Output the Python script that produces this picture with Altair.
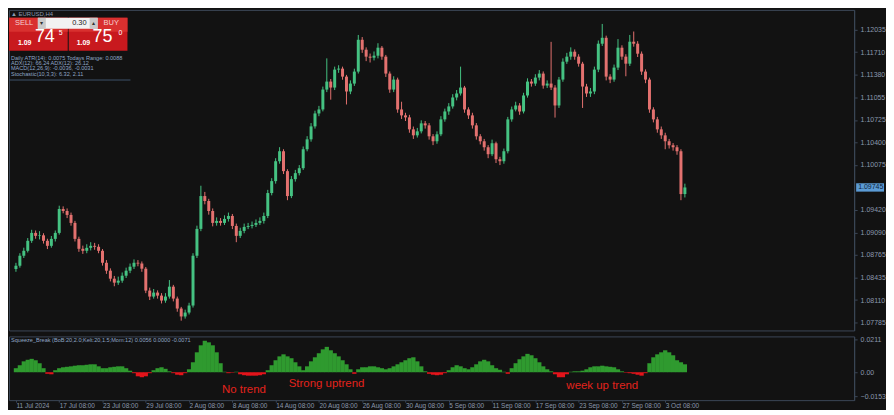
import altair as alt
import pandas as pd

# ---------------- data ----------------
opens = [1.08560, 1.08608, 1.08753, 1.08825, 1.08970, 1.09085, 1.09042, 1.09050, 1.08970, 1.08897,
         1.08998, 1.09085, 1.09432, 1.09403, 1.09346, 1.09230, 1.08998, 1.08854, 1.08825, 1.08868,
         1.08897, 1.08883, 1.08825, 1.08651, 1.08536, 1.08420, 1.08362, 1.08391, 1.08463, 1.08536,
         1.08594, 1.08651, 1.08640, 1.08565, 1.08247, 1.08160, 1.08218, 1.08174, 1.08102, 1.08160,
         1.08304, 1.08131, 1.07986, 1.07871, 1.07928, 1.08030, 1.08753, 1.09143, 1.09620, 1.09548,
         1.09403, 1.09230, 1.09259, 1.09230, 1.09288, 1.09331, 1.09186, 1.09042, 1.09114, 1.09172,
         1.09186, 1.09201, 1.09230, 1.09259, 1.09331, 1.09664, 1.09837, 1.10126, 1.10271, 1.09982,
         1.09620, 1.09866, 1.09953, 1.10025, 1.10300, 1.10444, 1.10632, 1.10820, 1.10878, 1.11167,
         1.11283, 1.11196, 1.11457, 1.11471, 1.11355, 1.11139, 1.11254, 1.11428, 1.11890, 1.11746,
         1.11645, 1.11630, 1.11659, 1.11775, 1.11645, 1.11399, 1.11167, 1.11312, 1.10878, 1.10792,
         1.10763, 1.10589, 1.10502, 1.10560, 1.10676, 1.10647, 1.10488, 1.10416, 1.10517, 1.10734,
         1.10849, 1.10922, 1.11052, 1.11110, 1.11196, 1.10878, 1.10792, 1.10647, 1.10488, 1.10416,
         1.10329, 1.10228, 1.10387, 1.10155, 1.10126, 1.10271, 1.10734, 1.10878, 1.10936, 1.10849,
         1.11081, 1.11283, 1.11254, 1.11341, 1.11399, 1.11225, 1.11254, 1.11196, 1.10936, 1.11312,
         1.11572, 1.11645, 1.11717, 1.11645, 1.11543, 1.11211, 1.11110, 1.11139, 1.11457, 1.11833,
         1.11919, 1.11355, 1.11312, 1.11486, 1.11775, 1.11645, 1.11543, 1.11862, 1.11833, 1.11688,
         1.11428, 1.11312, 1.10878, 1.10734, 1.10589, 1.10502, 1.10416, 1.10358, 1.10329, 1.10271,
         1.09649]
closes = [1.08608, 1.08753, 1.08825, 1.08970, 1.09085, 1.09042, 1.09050, 1.08970, 1.08897, 1.08998,
          1.09085, 1.09432, 1.09403, 1.09346, 1.09230, 1.08998, 1.08854, 1.08825, 1.08868, 1.08897,
          1.08883, 1.08825, 1.08651, 1.08536, 1.08420, 1.08362, 1.08391, 1.08463, 1.08536, 1.08594,
          1.08651, 1.08640, 1.08565, 1.08247, 1.08160, 1.08218, 1.08174, 1.08102, 1.08160, 1.08304,
          1.08131, 1.07986, 1.07871, 1.07928, 1.08030, 1.08753, 1.09143, 1.09620, 1.09548, 1.09403,
          1.09230, 1.09259, 1.09230, 1.09288, 1.09331, 1.09186, 1.09042, 1.09114, 1.09172, 1.09186,
          1.09201, 1.09230, 1.09259, 1.09331, 1.09664, 1.09837, 1.10126, 1.10271, 1.09982, 1.09620,
          1.09866, 1.09953, 1.10025, 1.10300, 1.10444, 1.10632, 1.10820, 1.10878, 1.11167, 1.11283,
          1.11196, 1.11457, 1.11471, 1.11355, 1.11139, 1.11254, 1.11428, 1.11890, 1.11746, 1.11645,
          1.11630, 1.11659, 1.11775, 1.11645, 1.11399, 1.11167, 1.11312, 1.10878, 1.10792, 1.10763,
          1.10589, 1.10502, 1.10560, 1.10676, 1.10647, 1.10488, 1.10416, 1.10517, 1.10734, 1.10849,
          1.10922, 1.11052, 1.11110, 1.11196, 1.10878, 1.10792, 1.10647, 1.10488, 1.10416, 1.10329,
          1.10228, 1.10387, 1.10155, 1.10126, 1.10271, 1.10734, 1.10878, 1.10936, 1.10849, 1.11081,
          1.11283, 1.11254, 1.11341, 1.11399, 1.11225, 1.11254, 1.11196, 1.10936, 1.11312, 1.11572,
          1.11645, 1.11717, 1.11645, 1.11543, 1.11211, 1.11110, 1.11139, 1.11457, 1.11833, 1.11919,
          1.11355, 1.11312, 1.11486, 1.11775, 1.11645, 1.11543, 1.11862, 1.11833, 1.11688, 1.11428,
          1.11312, 1.10878, 1.10734, 1.10589, 1.10502, 1.10416, 1.10358, 1.10329, 1.10271, 1.09649,
          1.09745]
highs = [1.08650, 1.08790, 1.08870, 1.09010, 1.09130, 1.09120, 1.09110, 1.09080, 1.09000, 1.09040,
         1.09120, 1.09480, 1.09470, 1.09440, 1.09380, 1.09260, 1.09030, 1.08900, 1.08920, 1.08950,
         1.08940, 1.08920, 1.08850, 1.08690, 1.08570, 1.08460, 1.08450, 1.08510, 1.08580, 1.08640,
         1.08700, 1.08690, 1.08670, 1.08590, 1.08290, 1.08270, 1.08250, 1.08210, 1.08210, 1.08400,
         1.08330, 1.08160, 1.08010, 1.07970, 1.08070, 1.08790, 1.09190, 1.09770, 1.09680, 1.09580,
         1.09440, 1.09310, 1.09300, 1.09340, 1.09380, 1.09360, 1.09220, 1.09160, 1.09220, 1.09230,
         1.09250, 1.09280, 1.09310, 1.09380, 1.09710, 1.09880, 1.10170, 1.10330, 1.10300, 1.10010,
         1.09910, 1.10000, 1.10070, 1.10340, 1.10490, 1.10680, 1.10860, 1.10930, 1.11210, 1.11620,
         1.11320, 1.11500, 1.11520, 1.11500, 1.11380, 1.11300, 1.11470, 1.11960, 1.11930, 1.11780,
         1.11690, 1.11720, 1.11840, 1.11800, 1.11670, 1.11430, 1.11360, 1.11340, 1.10990, 1.10830,
         1.10800, 1.10630, 1.10610, 1.10720, 1.10710, 1.10680, 1.10520, 1.10560, 1.10780, 1.10890,
         1.10970, 1.11100, 1.11160, 1.11500, 1.11220, 1.10910, 1.10830, 1.10680, 1.10520, 1.10450,
         1.10360, 1.10440, 1.10410, 1.10190, 1.10310, 1.10770, 1.10920, 1.10990, 1.10970, 1.11120,
         1.11330, 1.11320, 1.11390, 1.11450, 1.11430, 1.11300, 1.11860, 1.11230, 1.11350, 1.11620,
         1.11700, 1.11780, 1.11750, 1.11680, 1.11570, 1.11250, 1.11190, 1.11500, 1.11880, 1.12120,
         1.11950, 1.11390, 1.11530, 1.11900, 1.11810, 1.11680, 1.11960, 1.12010, 1.11870, 1.11720,
         1.11460, 1.11340, 1.10910, 1.10770, 1.10630, 1.10540, 1.10450, 1.10390, 1.10360, 1.10300,
         1.09800]
lows = [1.08520, 1.08580, 1.08720, 1.08800, 1.08940, 1.09000, 1.08990, 1.08930, 1.08850, 1.08870,
        1.08960, 1.09060, 1.09370, 1.09300, 1.09190, 1.08960, 1.08810, 1.08780, 1.08790, 1.08830,
        1.08840, 1.08790, 1.08610, 1.08490, 1.08380, 1.08310, 1.08330, 1.08360, 1.08430, 1.08500,
        1.08560, 1.08600, 1.08520, 1.08210, 1.08110, 1.08130, 1.08130, 1.08060, 1.08070, 1.08130,
        1.08090, 1.07940, 1.07810, 1.07840, 1.07900, 1.08000, 1.08720, 1.09110, 1.09500, 1.09350,
        1.09180, 1.09190, 1.09190, 1.09200, 1.09250, 1.09140, 1.08950, 1.09010, 1.09080, 1.09140,
        1.09150, 1.09170, 1.09200, 1.09220, 1.09300, 1.09630, 1.09800, 1.10090, 1.09940, 1.09560,
        1.09590, 1.09830, 1.09920, 1.10000, 1.10270, 1.10410, 1.10600, 1.10780, 1.10850, 1.11130,
        1.11020, 1.11160, 1.11410, 1.11310, 1.10950, 1.11100, 1.11220, 1.11400, 1.11700, 1.11580,
        1.11560, 1.11590, 1.11620, 1.11600, 1.11350, 1.11120, 1.11130, 1.10830, 1.10740, 1.10710,
        1.10540, 1.10450, 1.10470, 1.10530, 1.10600, 1.10440, 1.10360, 1.10380, 1.10490, 1.10700,
        1.10800, 1.10890, 1.11010, 1.11080, 1.10830, 1.10740, 1.10600, 1.10440, 1.10370, 1.10280,
        1.10170, 1.10200, 1.10100, 1.10070, 1.10090, 1.10240, 1.10700, 1.10850, 1.10800, 1.10820,
        1.11050, 1.11210, 1.11220, 1.11300, 1.11180, 1.11190, 1.11160, 1.10760, 1.10900, 1.11280,
        1.11540, 1.11600, 1.11600, 1.11500, 1.10900, 1.11060, 1.11060, 1.11100, 1.11420, 1.11800,
        1.11300, 1.11260, 1.11280, 1.11450, 1.11600, 1.11360, 1.11510, 1.11790, 1.11640, 1.11380,
        1.11260, 1.10830, 1.10690, 1.10540, 1.10450, 1.10300, 1.10310, 1.10280, 1.10220, 1.09560,
        1.09600]
squeeze = [0.0026, 0.0045, 0.0070, 0.0080, 0.0086, 0.0077, 0.0058, 0.0026, -0.0010, -0.0013,
           0.0013, 0.0026, 0.0032, 0.0035, 0.0038, 0.0042, 0.0045, 0.0045, 0.0048, 0.0051,
           0.0051, 0.0038, 0.0026, 0.0026, 0.0032, 0.0035, 0.0038, 0.0038, 0.0026, 0.0010,
           -0.0006, -0.0026, -0.0032, -0.0026, -0.0006, 0.0013, 0.0026, 0.0032, 0.0022, 0.0006,
           -0.0006, -0.0016, -0.0019, -0.0006, 0.0019, 0.0064, 0.0128, 0.0173, 0.0202, 0.0192,
           0.0173, 0.0128, 0.0058, 0.0003, -0.0006, -0.0003, 0.0003, -0.0013, -0.0019, -0.0022,
           -0.0022, -0.0022, -0.0019, -0.0013, 0.0013, 0.0045, 0.0077, 0.0102, 0.0115, 0.0102,
           0.0090, 0.0064, 0.0038, 0.0013, 0.0038, 0.0070, 0.0096, 0.0122, 0.0147, 0.0163,
           0.0141, 0.0122, 0.0102, 0.0077, 0.0051, 0.0019, -0.0010, 0.0019, 0.0032, 0.0032,
           0.0038, 0.0038, 0.0032, 0.0026, 0.0019, 0.0026, 0.0038, 0.0051, 0.0064, 0.0077,
           0.0090, 0.0096, 0.0070, 0.0038, 0.0006, -0.0010, -0.0016, -0.0019, -0.0016, -0.0006,
           0.0013, 0.0032, 0.0045, 0.0038, 0.0026, 0.0019, 0.0032, 0.0051, 0.0070, 0.0080,
           0.0070, 0.0045, 0.0026, 0.0016, 0.0003, -0.0010, 0.0026, 0.0058, 0.0083, 0.0102,
           0.0118, 0.0109, 0.0090, 0.0064, 0.0038, 0.0019, 0.0006, -0.0013, -0.0032, -0.0032,
           -0.0013, 0.0003, 0.0006, 0.0006, 0.0010, 0.0019, 0.0032, 0.0038, 0.0038, 0.0042,
           0.0038, 0.0035, 0.0032, 0.0019, 0.0006, -0.0003, -0.0006, -0.0010, -0.0016, -0.0022,
           -0.0006, 0.0058, 0.0096, 0.0115, 0.0128, 0.0141, 0.0128, 0.0109, 0.0077, 0.0064,
           0.0051]

price_ticks = [1.12035, 1.11710, 1.11380, 1.11055, 1.10725, 1.10400, 1.10075,
               1.09420, 1.09090, 1.08765, 1.08435, 1.08110, 1.07785]
sq_ticks = [0.0211, 0.0, -0.0153]
date_pos = [0, 11, 22, 33, 44, 55, 66, 77, 88, 99, 110, 121, 132, 143, 154, 165]
date_labels = ["11 Jul 2024", "17 Jul 08:00", "23 Jul 08:00", "29 Jul 08:00", "2 Aug 08:00",
               "8 Aug 08:00", "14 Aug 08:00", "20 Aug 08:00", "26 Aug 08:00", "30 Aug 08:00",
               "5 Sep 08:00", "11 Sep 08:00", "17 Sep 08:00", "23 Sep 08:00", "27 Sep 08:00",
               "3 Oct 08:00"]
info_lines = ["Daily ATR(14): 0.0075  Todays Range: 0.0088",
              "ADX(12): 66.24  ADX(12): 26.12",
              "MACD(12,26,9): -0.0036, -0.0031",
              "Stochastic(10,3,3): 6.32, 2.11"]

# ---------------- styles ----------------
BG = "#121212"
UP = "#45c282"
DN = "#e3716f"
AX = "#8a98ad"
FRAME = "#3b4757"
FONT = "Liberation Sans"
W = 849
H1 = 322
H2 = 64

n = len(closes)
df = pd.DataFrame({"i": list(range(n)), "open": opens, "close": closes,
                   "high": highs, "low": lows, "sq": squeeze})
df["dir"] = ["up" if c >= o else "down" for o, c in zip(opens, closes)]

xscale = alt.Scale(domain=[-0.5, W / 4 - 0.5], nice=False, zero=False)
yscale = alt.Scale(domain=[1.07668, 1.12324], nice=False, zero=False)
colscale = alt.Scale(domain=["up", "down"], range=[UP, DN])

one = pd.DataFrame({"t": [""]})


def txt(s, x, y, size=6, color=AX, align="left", weight="normal", font=FONT):
    return alt.Chart(pd.DataFrame({"t": [s]})).mark_text(
        align=align, baseline="middle", fontSize=size, color=color,
        fontWeight=weight, font=font
    ).encode(x=alt.value(x), y=alt.value(y), text="t:N")


def box(x, x2, y, y2, color):
    return alt.Chart(one).mark_rect(color=color).encode(
        x=alt.value(x), x2=alt.value(x2), y=alt.value(y), y2=alt.value(y2))


price_axis = alt.Axis(orient="right", values=price_ticks, format=".5f", title=None,
                      labelColor=AX, labelFontSize=7, labelFont=FONT, grid=False,
                      domainColor=FRAME, tickColor=FRAME, tickSize=3, labelPadding=3,
                      labelOverlap=False)


def py(field):
    return alt.Y(field, type="quantitative", scale=yscale, axis=price_axis)


base = alt.Chart(df).encode(x=alt.X("i:Q", scale=xscale, axis=None))
wicks = base.mark_rule(strokeWidth=1).encode(
    y=py("low"), y2="high:Q",
    color=alt.Color("dir:N", scale=colscale, legend=None))
bodies = base.mark_bar(size=3).encode(
    y=py("open"), y2="close:Q",
    color=alt.Color("dir:N", scale=colscale, legend=None))

last = df.tail(1)
cur_box = alt.Chart(last).mark_point(
    shape="M-1,-0.3L1,-0.3L1,0.3L-1,0.3Z", filled=True, size=784, color="#5b9bd5", opacity=1
).encode(x=alt.value(W + 16), y=py("close"))
cur_txt = alt.Chart(last).mark_text(
    align="left", baseline="middle", fontSize=7, font=FONT, color="#10243a"
).encode(x=alt.value(W + 4), y=py("close"),
         text=alt.Text("close:Q", format=".5f"))

panel = [
    txt("▲ EURUSD,H4", 2, 4, size=6),
    box(0, 59, 8, 41, "#c8191e"),
    box(0, 59, 8, 22, "#d9302f"),
    box(60, 119, 8, 41, "#c8191e"),
    box(60, 119, 8, 22, "#d9302f"),
    box(29, 89, 8, 19, "#f2f2f2"),
    box(29, 37, 8, 19, "#c9c9c9"),
    box(81, 89, 8, 19, "#c9c9c9"),
    txt("▾", 33, 13.5, size=6, color="#333333", align="center"),
    txt("▴", 85, 13.5, size=6, color="#333333", align="center"),
    txt("0.30", 78, 13.5, size=7.5, color="#222222", align="right"),
    txt("SELL", 6, 13.5, size=7.5, color="#f4d0d0"),
    txt("BUY", 95, 13.5, size=7.5, color="#f4d0d0"),
    txt("1.09", 9, 33, size=7, color="#ffffff", weight="bold"),
    txt("74", 26, 27, size=18, color="#ffffff"),
    txt("5", 50, 23, size=7, color="#ffffff"),
    txt("1.09", 68, 33, size=7, color="#ffffff", weight="bold"),
    txt("75", 84, 27, size=18, color="#ffffff"),
    txt("0", 110, 23, size=7, color="#ffffff"),
    box(0, 122, 70, 70.8, "#3d5168"),
]
for k, line in enumerate(info_lines):
    panel.append(txt(line, 2, 48 + 5.3 * k, size=5.6, color="#8fa6c6"))

price = alt.layer(wicks, bodies, cur_box, cur_txt, *panel).properties(width=W, height=H1)

# ---------------- indicator panel ----------------
date_expr = ("[" + ",".join("'" + s + "'" for s in date_labels) + "][indexof(["
             + ",".join(str(p) for p in date_pos) + "], datum.value)]")
x_axis = alt.Axis(values=date_pos, labelExpr=date_expr, title=None, labelAlign="left",
                  labelColor=AX, labelFontSize=6.5, labelFont=FONT, grid=False,
                  domain=False, tickColor=FRAME, tickSize=2, labelPadding=0,
                  labelOverlap=False, labelFlush=False, labelBound=False)
sq_axis = alt.Axis(orient="right", values=sq_ticks, title=None,
                   labelExpr="datum.value == 0 ? '0.00' : format(datum.value, '.4f')",
                   labelColor=AX, labelFontSize=7, labelFont=FONT, grid=False,
                   domainColor=FRAME, tickColor=FRAME, tickSize=3, labelPadding=3,
                   labelOverlap=False)
sq_scale = alt.Scale(domain=[-0.0179, 0.0230], nice=False)
hist = alt.Chart(df).mark_bar(size=4.3).encode(
    x=alt.X("i:Q", scale=xscale, axis=x_axis),
    y=alt.Y("sq:Q", scale=sq_scale, axis=sq_axis),
    color=alt.condition("datum.sq >= 0", alt.value("#2f9a2f"), alt.value("#e3141b")),
)
ind = alt.layer(
    hist,
    txt("Squeeze_Break (BoB:20,2.0;Kelt:20,1.5;Mom:12) 0.0056 0.0000 -0.0071", 2, 4,
        size=5.6, color="#8fa6c6"),
    txt("No trend", 236, 54, size=11.5, color="#e3231c", align="center"),
    txt("Strong uptrend", 319, 48, size=11.5, color="#e3231c", align="center"),
    txt("week up trend", 596, 50, size=11.5, color="#e3231c", align="center"),
).properties(width=W, height=H2)

chart = alt.vconcat(price, ind, spacing=3).properties(
    background=BG, padding=0
).configure_view(stroke=FRAME, strokeWidth=1, fill=BG)

chart.save("out.html", embed_options={"renderer": "svg", "actions": False})
